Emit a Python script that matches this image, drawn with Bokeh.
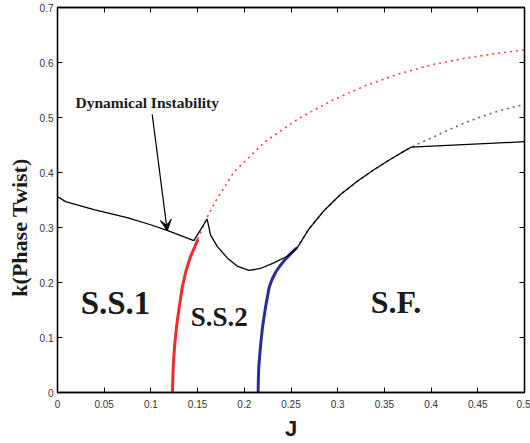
from bokeh.plotting import figure
from bokeh.models import Range1d, LinearAxis, FixedTicker, Label, Arrow, VeeHead
from bokeh.core.properties import value
from bokeh.embed import file_html
from bokeh.resources import INLINE

# ---- data ----
black_J = [0.0, 0.004, 0.0086, 0.04, 0.0746, 0.0996, 0.1174, 0.146, 0.1531, 0.1602,
           0.1638, 0.1710, 0.1817, 0.1924, 0.2048, 0.2173, 0.2316, 0.2459, 0.2566,
           0.2691, 0.285, 0.303, 0.321, 0.3387, 0.3565, 0.3744, 0.3787, 0.44, 0.501]
black_k = [0.356, 0.352, 0.347, 0.332, 0.318, 0.305, 0.2946, 0.276, 0.2957, 0.3155,
           0.2867, 0.2658, 0.2447, 0.2298, 0.2219, 0.2255, 0.2357, 0.2478, 0.2627,
           0.297, 0.330, 0.360, 0.384, 0.405, 0.424, 0.442, 0.446, 0.451, 0.456]

red_solid_J = [0.1231, 0.1234, 0.1239, 0.1253, 0.1274, 0.1303, 0.1335, 0.1374, 0.1424, 0.1470, 0.1505]
red_solid_k = [0.0, 0.02, 0.0468, 0.0828, 0.1188, 0.1548, 0.1908, 0.2200, 0.2470, 0.2650, 0.2790]

red_dot_J = [0.1505, 0.1531, 0.160, 0.171, 0.178, 0.189, 0.2215, 0.258, 0.294, 0.330,
             0.365, 0.401, 0.437, 0.4725, 0.5]
red_dot_k = [0.2790, 0.2900, 0.318, 0.353, 0.371, 0.401, 0.455, 0.498, 0.531, 0.558,
             0.579, 0.596, 0.608, 0.617, 0.623]

blue_solid_J = [0.2148, 0.2150, 0.2155, 0.2173, 0.2195, 0.2227, 0.2266, 0.2298, 0.2340,
                0.2390, 0.2450, 0.2500, 0.2559]
blue_solid_k = [0.0, 0.02, 0.0468, 0.0828, 0.1188, 0.1548, 0.1908, 0.2060, 0.2200,
                0.2320, 0.2440, 0.2530, 0.2627]

blue_dot_J = [0.2559, 0.2691, 0.285, 0.303, 0.321, 0.3387, 0.3565, 0.3744, 0.3787,
              0.385, 0.403, 0.4208, 0.4386, 0.4564, 0.4743, 0.4957, 0.5]
blue_dot_k = [0.2627, 0.297, 0.330, 0.360, 0.384, 0.405, 0.424, 0.442, 0.446,
              0.451, 0.465, 0.479, 0.492, 0.503, 0.513, 0.522, 0.524]

x_ticks = [0, 0.05, 0.1, 0.15, 0.2, 0.25, 0.3, 0.35, 0.4, 0.45, 0.5]
x_tick_labels = ["0", "0.05", "0.1", "0.15", "0.2", "0.25", "0.3", "0.35", "0.4", "0.45", "0.5"]
y_ticks = [0, 0.1, 0.2, 0.3, 0.4, 0.5, 0.6, 0.7]
y_tick_labels = ["0", "0.1", "0.2", "0.3", "0.4", "0.5", "0.6", "0.7"]

region_labels = ["S.S.1", "S.S.2", "S.F."]

# ---- figure ----
p = figure(width=530, height=443, output_backend="svg", toolbar_location=None,
           x_range=Range1d(0, 0.5), y_range=Range1d(0, 0.7),
           min_border_left=57, min_border_right=6, min_border_top=7, min_border_bottom=47)
p.xgrid.visible = False
p.ygrid.visible = False
p.background_fill_color = "white"
p.outline_line_color = "black"
p.outline_line_width = 1.3

def style_axis(ax, ticks, labels, show_labels=True):
    ax.ticker = FixedTicker(ticks=ticks)
    ax.major_tick_in = 5
    ax.major_tick_out = 0
    ax.minor_tick_in = 0
    ax.minor_tick_out = 0
    ax.axis_line_color = "black"
    ax.axis_line_width = 1.3
    ax.major_tick_line_color = "black"
    ax.major_tick_line_width = 1
    ax.major_label_text_font = "Liberation Sans"
    ax.major_label_text_font_size = "10px"
    ax.major_label_text_color = "#333333"
    if show_labels:
        ax.major_label_overrides = {t: l for t, l in zip(ticks, labels)}
    else:
        ax.major_label_overrides = {t: "" for t in ticks}
        ax.major_label_text_font_size = "1px"
        ax.major_label_standoff = 0

style_axis(p.xaxis[0], x_ticks, x_tick_labels)
style_axis(p.yaxis[0], y_ticks, y_tick_labels)
p.xaxis[0].major_label_standoff = 7
p.yaxis[0].major_label_standoff = 4

p.xaxis[0].axis_label = "J"
p.xaxis[0].axis_label_text_font = "Liberation Sans"
p.xaxis[0].axis_label_text_font_style = "bold"
p.xaxis[0].axis_label_text_font_size = "22px"
p.xaxis[0].axis_label_text_color = "#1a1a1a"
p.xaxis[0].axis_label_standoff = 5

p.yaxis[0].axis_label = "k(Phase Twist)" + "\u00a0" * 10
p.yaxis[0].axis_label_text_font = "Liberation Serif"
p.yaxis[0].axis_label_text_font_style = "bold"
p.yaxis[0].axis_label_text_font_size = "22px"
p.yaxis[0].axis_label_text_color = "#1a1a1a"
p.yaxis[0].axis_label_standoff = 5

top_ax = LinearAxis()
style_axis(top_ax, x_ticks, x_tick_labels, show_labels=False)
p.add_layout(top_ax, "above")
right_ax = LinearAxis()
style_axis(right_ax, y_ticks, y_tick_labels, show_labels=False)
p.add_layout(right_ax, "right")

# ---- curves ----
p.line(red_dot_J, red_dot_k, line_color="#ff3b3b", line_width=1.6, line_dash="2 4")
p.line(blue_dot_J, blue_dot_k, line_color="#5a5aaa", line_width=1.6, line_dash="2 4")
p.line(red_solid_J, red_solid_k, line_color="#ee2a2e", line_width=3)
p.line(blue_solid_J, blue_solid_k, line_color="#2c2c96", line_width=3)
p.line(black_J, black_k, line_color="black", line_width=1.3)

# ---- region texts ----
p.text(x=[0.0621, 0.1731, 0.3624], y=[0.163, 0.138, 0.165], text=region_labels,
       text_font=value("Liberation Serif"), text_font_style="bold",
       text_font_size=["33px", "27px", "32px"], text_color="#1a1a1a",
       text_align="center", text_baseline="middle")

p.add_layout(Label(x=0.0193, y=0.528, text="Dynamical Instability",
                   text_font="Liberation Serif", text_font_style="bold",
                   text_font_size="15.5px", text_color="#1a1a1a",
                   text_align="left", text_baseline="middle"))

p.add_layout(Arrow(x_start=0.1014, y_start=0.5057, x_end=0.1175, y_end=0.294,
                   line_color="black", line_width=1.2,
                   end=VeeHead(size=11, fill_color="black", line_color="black")))

open("out.html", "w").write(file_html(p, INLINE))
